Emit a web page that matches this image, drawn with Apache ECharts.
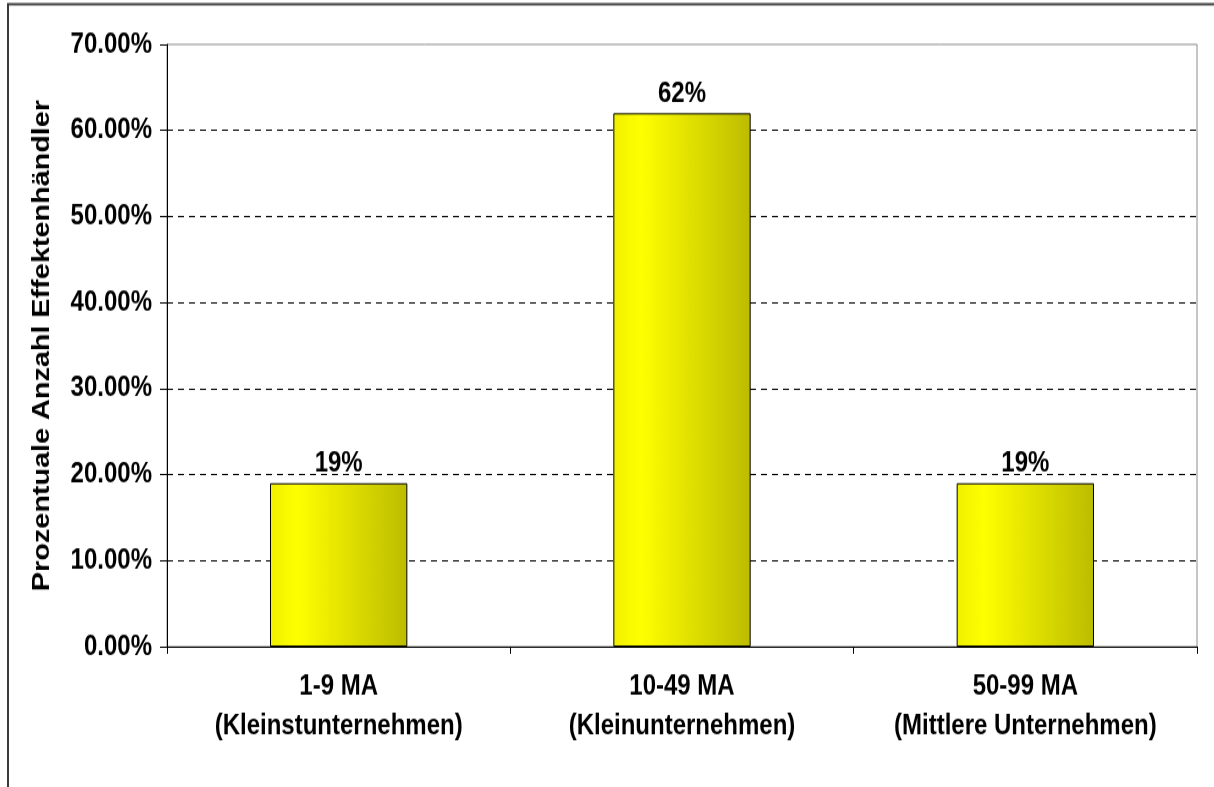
<!DOCTYPE html>
<html>
<head>
<meta charset="utf-8">
<title>Effektenhändler nach Unternehmensgröße</title>
<script src="https://cdn.jsdelivr.net/npm/echarts@6/dist/echarts.min.js"></script>
<style>
  html, body { margin: 0; padding: 0; background: #fff; }
  #wrap { width: 1214px; height: 787px; position: relative; }
  /* die Vorlage ist vertikal gestreckt, daher 656px hoch und auf 787px skaliert */
  #chart { position: absolute; left: 0; top: 0; width: 1214px; height: 656px;
           transform: scaleY(1.1997); transform-origin: 0 0; }
</style>
</head>
<body>
<div id="wrap"><div id="chart"></div></div>
<script>
  // Kategorien (zwei Zeilen je Beschriftung)
  var categories = [
    '1-9 MA\n(Kleinstunternehmen)',
    '10-49 MA\n(Kleinunternehmen)',
    '50-99 MA\n(Mittlere Unternehmen)'
  ];
  // Anteil in Prozent
  var shares = [19, 62, 19];
  var yMax = 70;
  var yStep = 10;

  var font = '"Liberation Sans", Arial, sans-serif';

  // Gitterlinien gestrichelt, oberste Linie übernimmt der Rahmen
  var gridColors = [];
  for (var v = 0; v <= yMax; v += yStep) {
    gridColors.push(v === yMax ? 'rgba(0,0,0,0)' : '#000');
  }

  var labelLine = { color: '#000', fontWeight: 'bold', fontSize: 24, fontFamily: font, lineHeight: 33 };

  var chart = echarts.init(document.getElementById('chart'));
  chart.setOption({
    animation: false,
    backgroundColor: '#fff',
    textStyle: { fontFamily: font },
    graphic: [{
      type: 'rect',
      shape: { x: 8, y: 3.5, width: 1400, height: 1000 },
      style: { fill: 'none', stroke: '#3a3a3a', lineWidth: 2 },
      silent: true
    }],
    grid: {
      left: 167, right: 17, top: 37, bottom: 117,
      show: true, borderColor: '#8c8c8c', borderWidth: 1
    },
    xAxis: {
      type: 'category',
      data: categories,
      axisLine: { lineStyle: { color: '#000', width: 1 } },
      axisTick: { show: true, length: 6, lineStyle: { color: '#000' } },
      axisLabel: {
        margin: 17,
        formatter: function (val) {
          var parts = val.split('\n');
          return '{a|' + parts[0] + '}\n{a|' + parts[1] + '}';
        },
        rich: { a: labelLine }
      }
    },
    yAxis: {
      type: 'value',
      min: 0, max: yMax, interval: yStep,
      name: 'Prozentuale Anzahl Effektenhändler',
      nameLocation: 'middle',
      nameGap: 113,
      nameTextStyle: { color: '#000', fontWeight: 'bold', fontSize: 24, fontFamily: font },
      axisLine: { show: true, lineStyle: { color: '#000', width: 1 } },
      axisTick: { show: true, length: 7, lineStyle: { color: '#000' } },
      axisLabel: {
        color: '#000', fontWeight: 'bold', fontSize: 24, fontFamily: font, margin: 15,
        formatter: function (val) { return val.toFixed(2) + '%'; }
      },
      splitLine: {
        show: true,
        lineStyle: { color: gridColors, type: [6, 5], width: 1 }
      }
    },
    series: [{
      type: 'bar',
      data: shares,
      barWidth: '40%',
      itemStyle: {
        borderColor: '#000',
        borderWidth: 1,
        color: new echarts.graphic.LinearGradient(0, 0, 1, 0, [
          { offset: 0, color: '#f0f000' },
          { offset: 0.2, color: '#ffff00' },
          { offset: 1, color: '#bcbc00' }
        ])
      },
      label: {
        show: true,
        position: 'top',
        distance: 4,
        color: '#000',
        fontWeight: 'bold',
        fontSize: 24,
        fontFamily: font,
        formatter: '{c}%'
      }
    }]
  });
</script>
</body>
</html>
